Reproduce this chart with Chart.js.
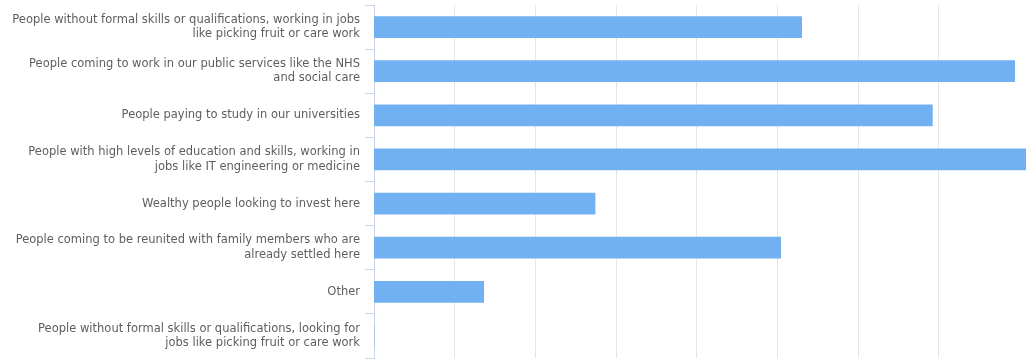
<!DOCTYPE html>
<html>
<head>
<meta charset="utf-8">
<script src="https://cdn.jsdelivr.net/npm/chart.js@4/dist/chart.umd.min.js"></script>
<style>
  html, body { margin: 0; padding: 0; background: #ffffff; }
  #wrap { position: relative; width: 1034px; height: 364px; }
</style>
</head>
<body>
<div id="wrap"><canvas id="c"></canvas></div>
<script>
const categories = [
  ["People without formal skills or qualifications, working in jobs", "like picking fruit or care work"],
  ["People coming to work in our public services like the NHS", "and social care"],
  ["People paying to study in our universities"],
  ["People with high levels of education and skills, working in", "jobs like IT engineering or medicine"],
  ["Wealthy people looking to invest here"],
  ["People coming to be reunited with family members who are", "already settled here"],
  ["Other"],
  ["People without formal skills or qualifications, looking for", "jobs like picking fruit or care work"]
];
const values = [26.5, 39.7, 34.6, 40.4, 13.7, 25.2, 6.8, 0];
const gridStep = 5;

new Chart(document.getElementById('c'), {
  type: 'bar',
  data: {
    labels: categories,
    datasets: [{
      data: values,
      backgroundColor: '#71b1f1',
      borderWidth: 0,
      barThickness: 21
    }]
  },
  options: {
    indexAxis: 'y',
    responsive: true,
    maintainAspectRatio: false,
    animation: false,
    layout: { padding: { left: 0, right: 8, top: 5, bottom: 6 } },
    plugins: { legend: { display: false }, tooltip: { enabled: false } },
    scales: {
      x: {
        min: 0,
        max: Math.max(...values),
        ticks: { display: false, stepSize: gridStep },
        afterBuildTicks: (scale) => {
          scale.ticks = scale.ticks.filter(t => t.value > 0 && Math.abs(t.value / gridStep - Math.round(t.value / gridStep)) < 1e-9);
        },
        afterFit: (scale) => { scale.height = 0; scale.paddingLeft = 0; scale.paddingRight = 0; },
        grid: { color: '#e6e6e6', lineWidth: 1, drawTicks: false },
        border: { display: false }
      },
      y: {
        afterFit: (scale) => { scale.width = 374; scale.paddingTop = 0; scale.paddingBottom = 0; },
        grid: { offset: true, drawOnChartArea: false, drawTicks: true, tickLength: 9, color: '#ccd6eb', lineWidth: 1 },
        border: { display: true, color: '#ccd6eb', width: 1 },
        ticks: {
          color: '#5e5e5e',
          padding: 5,
          autoSkip: false,
          font: { family: 'DejaVu Sans', size: 11.5, lineHeight: 1.26 }
        }
      }
    }
  }
});
</script>
</body>
</html>
